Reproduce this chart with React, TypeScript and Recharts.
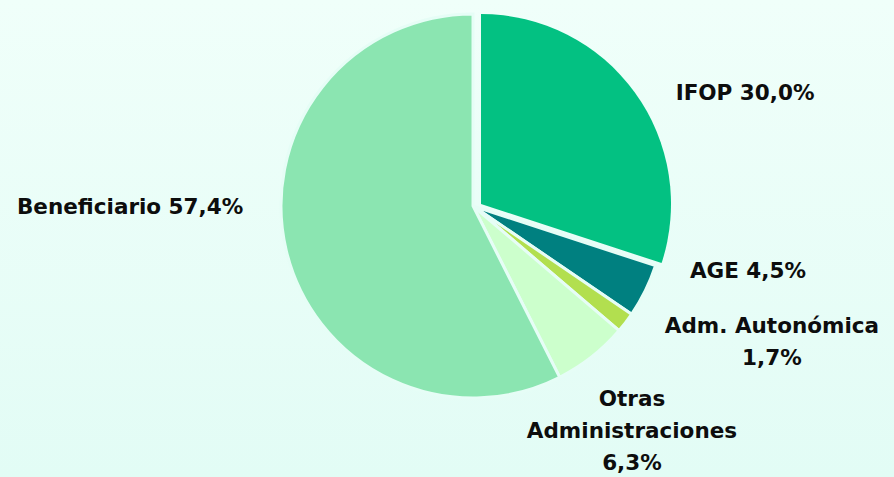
import { PieChart, Pie, Cell } from "recharts"

const categories = ["IFOP", "AGE", "Adm. Autonómica", "Otras Administraciones", "Beneficiario"]
const values = [30.0, 4.5, 1.7, 6.3, 57.4]
const labelLines = [
  ["IFOP 30,0%"],
  ["AGE 4,5%"],
  ["Adm. Autonómica", "1,7%"],
  ["Otras", "Administraciones", "6,3%"],
  ["Beneficiario 57,4%"],
]
const COLORS = ["#03c182", "#008080", "#b2df4f", "#ccffcc", "#8be5b1"]

// label anchor, relative to centre, in units of the radius
const LABEL_POS = [
  [1.417, -0.594],
  [1.432, 0.333],
  [1.557, 0.62],
  [0.828, 1.0],
  [-1.786, 0],
]

const data = categories.map((name, i) => ({ name, value: values[i] }))

const W = 894
const H = 477
const CX = 473
const CY = 206
const R = 192
const SEP = "#e6fdf6"

const renderLabel = (props: any) => {
  const { cx, cy, outerRadius, index } = props
  const [ax, ay] = LABEL_POS[index]
  const x = cx + outerRadius * ax
  const y = cy + outerRadius * ay
  const lines = labelLines[index]
  return (
    <text
      x={x}
      y={y}
      textAnchor="middle"
      dominantBaseline="central"
      fill="#0d0d0d"
      fontSize={21.5}
      fontWeight="bold"
      fontFamily="'DejaVu Sans', sans-serif"
    >
      {lines.map((l, j) => (
        <tspan key={j} x={x} dy={j === 0 ? 0 : 32}>
          {l}
        </tspan>
      ))}
    </text>
  )
}

export default function App() {
  return (
    <div
      style={{
        position: "absolute",
        left: 0,
        top: 0,
        width: W,
        height: H,
        background: "linear-gradient(#f0fffa, #e2fcf5)",
      }}
    >
      <PieChart width={W} height={H} margin={{ top: 0, right: 0, bottom: 0, left: 0 }}>
        <Pie
          data={data}
          dataKey="value"
          cx={CX}
          cy={CY}
          outerRadius={R}
          startAngle={90}
          endAngle={-270}
          stroke={SEP}
          strokeWidth={3}
          label={renderLabel}
          labelLine={false}
          isAnimationActive={false}
        >
          {data.map((entry, index) => (
            <Cell
              key={`cell-${index}`}
              fill={index === 0 ? "transparent" : COLORS[index]}
              stroke={index === 0 ? "none" : SEP}
            />
          ))}
        </Pie>
        {/* exploded IFOP slice */}
        <Pie
          data={data}
          dataKey="value"
          cx={CX + 8}
          cy={CY - 2}
          outerRadius={R - 2}
          startAngle={90}
          endAngle={-270}
          stroke="none"
          isAnimationActive={false}
        >
          {data.map((entry, index) => (
            <Cell key={`ex-${index}`} fill={index === 0 ? COLORS[0] : "transparent"} />
          ))}
        </Pie>
      </PieChart>
    </div>
  )
}
